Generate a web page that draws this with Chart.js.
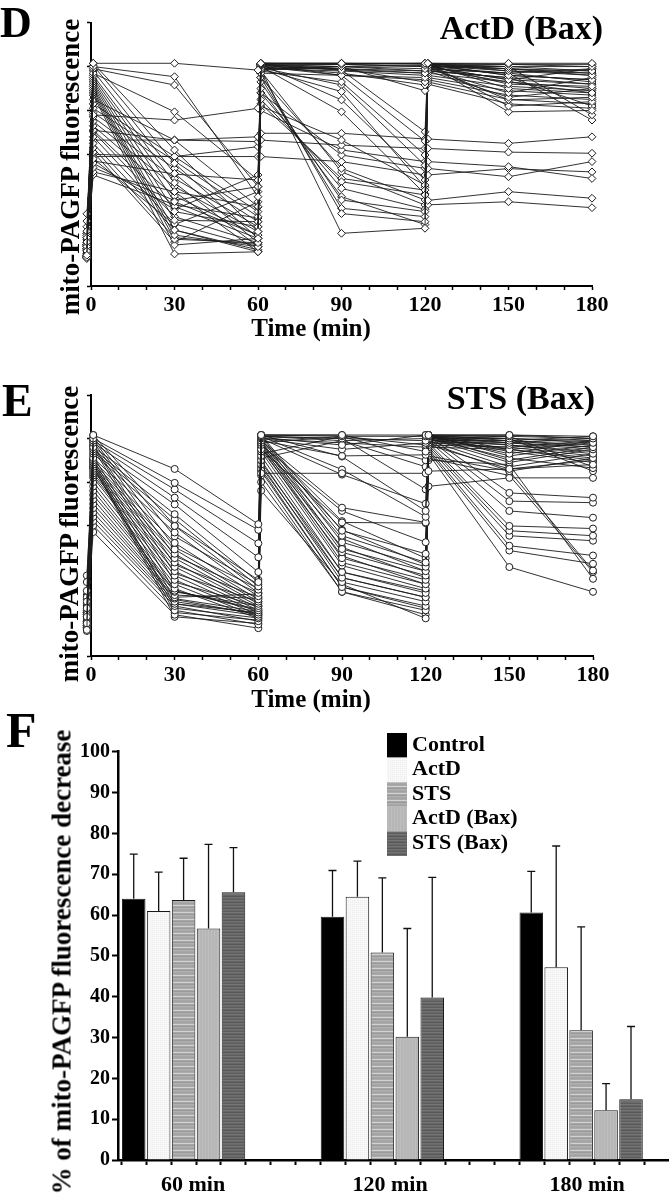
<!DOCTYPE html>
<html><head><meta charset="utf-8">
<script src="https://cdn.jsdelivr.net/npm/chart.js@4.4.1/dist/chart.umd.min.js"></script>
<style>
html,body{margin:0;padding:0;background:#fff;}
body{width:669px;height:1199px;position:relative;overflow:hidden;font-family:"Liberation Serif","Times New Roman",serif;font-weight:bold;color:#000;}
canvas{position:absolute;left:0;}
.t{position:absolute;white-space:nowrap;line-height:1;}
.rot{position:absolute;white-space:nowrap;line-height:1;transform:translate(-50%,-50%) rotate(-90deg);}
</style></head><body>
<canvas id="cD" width="669" height="350" style="top:0px"></canvas>
<canvas id="cE" width="669" height="365" style="top:355px"></canvas>
<canvas id="cF" width="669" height="499" style="top:700px"></canvas>

<div class="t" style="left:0px;top:1px;font-size:44px">D</div>
<div class="t" style="right:66px;top:11px;font-size:34px">ActD (Bax)</div>
<div class="rot" style="left:70px;top:167px;font-size:27px">mito-PAGFP fluorescence</div>
<div class="t" style="left:311px;top:315px;font-size:25px;transform:translateX(-50%)">Time (min)</div>

<div class="t" style="left:2px;top:378px;font-size:46px">E</div>
<div class="t" style="right:74px;top:381px;font-size:34px">STS (Bax)</div>
<div class="rot" style="left:69px;top:534px;font-size:27px">mito-PAGFP fluorescence</div>
<div class="t" style="left:311px;top:686px;font-size:25px;transform:translateX(-50%)">Time (min)</div>

<div class="t" style="left:6px;top:705px;font-size:50px">F</div>
<div class="rot" style="left:62px;top:962px;font-size:27px">% of mito-PAGFP fluorescence decrease</div>

<script>
// ---------- Panel D: ActD (Bax), one row per cell ----------
// sample times (min): pre-activation, post-activation, 30, 60, re-activation, 90, 120, re-activation, 150, 180
const timesD = [-1.5, 0.8, 30, 60, 61, 90, 120, 121, 150, 180];
const actdBaxHigh = [
  [14, 101.5, 101.5, 98.4, 101.5, 101.5, 101.5, 101.5, 101.5, 101.5],
  [13, 100, 95.4, 40.7, 101.5, 101, 101.5, 101.5, 101, 100],
  [16, 99, 91.6, 45.3, 101, 100, 100.5, 101, 100, 98],
  [20, 97, 79.4, 48.3, 100.5, 100, 99, 101, 99, 96],
  [15, 101.5, 62, 24.8, 101.5, 101.5, 101, 101.5, 98, 97],
  [22, 100.5, 55.9, 21.7, 101, 98.4, 97, 101, 96, 94],
  [18, 98, 51.3, 19.7, 100, 96, 95, 100, 94, 99],
  [13.5, 96, 47, 17.9, 99, 100, 98, 100.5, 92, 91],
  [17, 95, 43, 15.6, 101.5, 101, 100, 101, 90, 88],
  [25, 94, 38.4, 23.2, 101, 99, 93, 99, 88, 95],
  [14.5, 93, 33.9, 27, 100, 97, 91.6, 98, 86, 90],
  [19, 92, 30, 29.3, 98.4, 100, 89, 100, 84.8, 86],
  [21, 91, 25.5, 15.6, 101.5, 101.5, 101.5, 101.5, 82, 84],
  [16.5, 90, 23.2, 17.9, 101, 101, 100, 101, 79.4, 80],
  [23, 89, 21.3, 19.7, 100, 99, 98, 100, 100, 78],
  [12.5, 88, 18.7, 21.7, 99, 98, 96, 99, 97, 75.6],
  [29.6, 87, 14.6, 15.6, 97, 96, 94, 98, 95, 82],
  [16, 78, 75.6, 81, 99, 99, 97, 99, 93, 88]
];
const actdBaxDropJump = [
  [15, 85, 66.5, 36.2, 99, 24, 26.3, 100, 99, 97],
  [13, 83, 59, 33.9, 97, 33, 29.3, 99, 97, 93],
  [18, 81, 57, 31.6, 95, 35.4, 31.6, 98, 95, 92],
  [24, 79, 53.6, 29.3, 93, 39.2, 33.9, 97, 93, 90],
  [14, 77, 49, 27, 90, 40.7, 28, 96, 91, 89],
  [17, 75, 45.3, 24.8, 88, 44.5, 35, 95, 89, 87],
  [19, 73, 41, 23.2, 85, 47.5, 41.5, 94, 87, 85],
  [32.9, 71, 36.2, 21.7, 83, 49, 43.7, 93, 85, 83],
  [21, 70.3, 31.6, 19.7, 82, 66.5, 46, 92, 83, 81],
  [13.5, 68, 28.3, 17.9, 101, 84.8, 48.3, 101, 100, 100],
  [15.5, 65, 25.5, 16.5, 100, 79.4, 42, 100.5, 98, 96],
  [16, 63, 22, 19, 99, 88.6, 45, 101, 96, 94],
  [22, 61, 20, 38.4, 98, 93, 59.7, 100, 94, 92],
  [14, 58, 28, 43, 101, 96, 66, 101, 101, 101],
  [20, 56, 35, 50.6, 100.5, 98.4, 70.3, 100.5, 99, 98],
  [18.5, 54, 39, 45.3, 99.5, 91.6, 55, 100, 97, 99]
];
const actdBaxLow = [
  [27, 71, 66.5, 68, 69.6, 69.6, 67, 67, 65, 68],
  [20, 66.5, 66.5, 65.8, 66.5, 64.2, 62.7, 62.7, 61, 60.5],
  [15, 60, 59, 63.5, 80, 62, 56.7, 56.7, 54.4, 49],
  [17, 57, 51, 48.3, 88, 59.7, 53.6, 53.6, 49.8, 56.7],
  [24, 59, 59, 59, 59, 56.7, 50.6, 50.6, 53.5, 52],
  [13, 52, 43, 36, 95, 53.6, 39.2, 39, 43, 40],
  [19, 50.6, 37, 31, 98, 52, 36.9, 37, 38.4, 35.7]
];

// ---------- Panel E: STS (Bax), one row per cell ----------
const timesE = [-1.5, 0.8, 30, 60, 61, 90, 120, 121, 150, 180];
const stsBaxHigh = [
  [12, 101.6, 86, 60.6, 101.6, 101.6, 101.6, 101.6, 101.6, 101],
  [15, 100, 79.6, 58, 101.6, 101, 101, 101.6, 101, 100],
  [18, 99, 76.6, 51.8, 101, 100, 99, 101, 100, 98],
  [22, 98, 72.8, 45.4, 100.5, 97, 101.6, 101.6, 99, 96],
  [14, 96, 69.7, 38.6, 100, 95, 98, 101, 98, 95],
  [30, 95, 65.2, 34, 101.6, 101.6, 94, 100, 97, 93],
  [16, 94, 62.9, 32, 99, 92, 92.5, 99.5, 95, 91],
  [13, 93, 59.8, 30.5, 101, 99, 100, 101, 93, 99],
  [19, 91, 56.8, 29, 84, 84, 84, 85, 86, 88],
  [25, 90, 52, 27.5, 98, 101, 97, 100, 91, 86.4]
];
const stsBaxDropJump = [
  [11.5, 89, 49, 26, 101.6, 91.7, 66.7, 101.6, 101.6, 100],
  [17, 88, 47, 25, 101, 85.7, 64, 101, 100, 99],
  [20, 87, 45, 24, 100, 83.4, 70, 100, 99, 97],
  [14, 86, 43, 23, 99, 68.2, 61.4, 100, 98, 96],
  [23, 85, 41, 22, 97, 66.7, 52.3, 99, 97, 94],
  [16, 84, 39, 21, 95, 61.4, 61.1, 98, 96, 92],
  [27, 83, 37, 20, 101.6, 57.6, 47, 101.6, 95, 90],
  [13, 82, 35, 19, 101, 55.3, 43, 101, 94, 89],
  [18, 80, 33, 18, 100, 52.3, 41, 100.5, 101, 87],
  [21, 78, 31, 17.3, 99, 49.2, 39, 100, 100, 85],
  [15, 76, 30, 21.5, 98, 47.7, 37, 99, 99, 101],
  [12, 74, 29.5, 23, 97, 45, 35, 98, 98, 100],
  [19, 72, 28, 26.5, 96, 43, 33, 97, 96, 99],
  [24, 70, 27, 28.5, 94, 41.6, 31, 96, 95, 98],
  [17, 68, 26.4, 20.5, 92, 38.6, 29, 101.6, 92, 97],
  [14, 66, 25, 19.5, 90, 36, 27, 101, 90, 96],
  [20, 64, 24, 18.5, 88, 34, 25, 100, 89, 95],
  [26, 62, 23, 16, 86, 31.7, 23, 99, 87, 93],
  [22, 60, 21, 14.5, 80, 29.5, 21, 98, 85, 91],
  [16, 57, 19, 12.8, 76, 33, 17.3, 97, 86, 90]
];
const stsBaxLateDrop = [
  [13, 101.6, 60, 35, 101, 100, 76.6, 78, 81.9, 81.9],
  [18, 100.5, 55, 33, 100, 98, 96, 101, 75, 72.8],
  [21, 99.5, 50, 31, 99, 62, 45, 100, 71.2, 70.5],
  [15, 98.5, 46, 29, 98, 58, 42, 99, 66.7, 63.6],
  [34, 97, 42, 27, 97, 54, 39, 98, 59.8, 58.6],
  [12.5, 96.5, 38, 25, 96, 50, 36, 97, 57.6, 55.3],
  [19, 95.5, 34, 23, 95, 46, 33, 96, 55.3, 53],
  [16, 92, 30, 21, 93, 101, 90, 95, 50.7, 46.2],
  [23, 90.5, 26, 19, 91, 99, 87, 94, 48.5, 42.4],
  [14, 89.5, 22, 17.5, 89, 38.6, 30, 93, 40.9, 29.5],
  [28, 88.5, 20, 16.5, 87, 36, 27, 92, 85, 39.3],
  [37, 87.5, 18, 15, 85, 31.7, 22, 91, 83, 38.6],
  [20, 86.5, 24, 20, 83, 29.5, 19, 90, 88, 35.5]
];
const timeTickValues = [0,10,20,30,40,50,60,70,80,90,100,110,120,130,140,150,160,170,180];
const fluorTickValues = [0,20,40,60,80,100,120];

// ---------- Panel F ----------
const fCategories = ['60 min', '120 min', '180 min'];
const fCategoryPos = [0, 1, 2];
const fLabelPos = [0.048, 1.039, 2.03];
const fSeries = ['Control', 'ActD', 'STS', 'ActD (Bax)', 'STS (Bax)'];
const controlMean = [64.0, 59.6, 60.6];
const actdMean = [61.0, 64.5, 47.2];
const stsMean = [63.7, 50.8, 31.8];
const actdBaxMean = [56.7, 30.2, 12.2];
const stsBaxMean = [65.6, 39.8, 14.9];
const controlSD = [10.9, 11.3, 10.1];
const actdSD = [9.5, 8.7, 29.7];
const stsSD = [10.2, 18.3, 25.3];
const actdBaxSD = [20.6, 26.5, 6.5];
const stsBaxSD = [10.9, 29.4, 17.8];
const percentTickValues = [0,10,20,30,40,50,60,70,80,90,100];

Chart.defaults.font.family = '"Liberation Serif","Times New Roman",serif';
Chart.defaults.font.weight = 'bold';
Chart.defaults.color = '#000';

function lineChart(id, times, traces, pointStyle, radius, padTop, padRight) {
  const datasets = traces.map(tr => ({
    data: times.map((t, i) => ({x: t, y: tr[i]})),
    showLine: true, borderColor: '#1c1c1c', borderWidth: 0.9,
    pointStyle: pointStyle, pointRadius: radius, pointBorderWidth: 1,
    pointBorderColor: '#1c1c1c', pointBackgroundColor: '#fff', clip: false
  }));
  new Chart(document.getElementById(id), {
    type: 'scatter',
    data: {datasets},
    options: {
      responsive: false, animation: false, devicePixelRatio: 1,
      layout: {padding: {top: padTop, right: padRight, left: 0, bottom: 0}},
      plugins: {legend: {display: false}, tooltip: {enabled: false}},
      scales: {
        x: {type: 'linear', min: 0, max: 180,
          afterBuildTicks: s => { s.ticks = timeTickValues.map(v => ({value: v})); },
          afterFit: s => { s.height = 64; },
          ticks: {callback: v => (v % 30 === 0 ? String(v) : ''), font: {size: 22, weight: 'bold'}, color: '#000', padding: 2, maxRotation: 0, autoSkip: false},
          grid: {drawOnChartArea: false, tickLength: 4, tickColor: '#000', tickWidth: 1.5},
          border: {color: '#000', width: 2}
        },
        y: {type: 'linear', min: 0, max: 120,
          afterBuildTicks: s => { s.ticks = fluorTickValues.map(v => ({value: v})); },
          afterFit: s => { s.width = 91; },
          ticks: {display: false},
          grid: {drawOnChartArea: false, tickLength: 4, tickColor: '#000', tickWidth: 1.5},
          border: {color: '#000', width: 2}
        }
      }
    }
  });
}

lineChart('cD', timesD, actdBaxHigh.concat(actdBaxDropJump, actdBaxLow), 'rectRot', 3.9, 22.7, 77);
lineChart('cE', timesE, stsBaxHigh.concat(stsBaxDropJump, stsBaxLateDrop), 'circle', 3.5, 40, 76);

// ---------- bar chart ----------
const fctx = document.getElementById('cF').getContext('2d');
function makePattern(w, h, draw) {
  const c = document.createElement('canvas'); c.width = w; c.height = h;
  const g = c.getContext('2d'); draw(g); return fctx.createPattern(c, 'repeat');
}
function rows(cols) { return g => cols.forEach((col, i) => { g.fillStyle = col; g.fillRect(0, i, 4, 1); }); }
const fills = [
  '#000000',
  makePattern(2, 2, g => { g.fillStyle = '#f8f8f8'; g.fillRect(0,0,2,2); g.fillStyle = '#ececec'; g.fillRect(0,0,1,1); }),
  makePattern(4, 7, rows(['#a2a2a2','#ababab','#d2d2d2','#a6a6a6','#9a9a9a','#b0b0b0','#a8a8a8'])),
  makePattern(3, 1, g => { g.fillStyle = '#b6b6b6'; g.fillRect(0,0,3,1); g.fillStyle = '#bebebe'; g.fillRect(1,0,1,1); }),
  makePattern(4, 6, rows(['#6a6a6a','#5c5c5c','#757575','#666666','#585858','#707070']))
];
const means = [controlMean, actdMean, stsMean, actdBaxMean, stsBaxMean];
const sds = [controlSD, actdSD, stsSD, actdBaxSD, stsBaxSD];

const errorBars = {
  id: 'errorBars',
  afterDatasetsDraw(chart) {
    const {ctx} = chart; const y = chart.scales.y;
    ctx.save(); ctx.strokeStyle = '#111'; ctx.lineWidth = 1.3;
    chart.data.datasets.forEach((ds, j) => {
      chart.getDatasetMeta(j).data.forEach((bar, i) => {
        const top = y.getPixelForValue(means[j][i] + sds[j][i]);
        ctx.beginPath();
        ctx.moveTo(bar.x, bar.y); ctx.lineTo(bar.x, top);
        ctx.moveTo(bar.x - 4, top); ctx.lineTo(bar.x + 4, top);
        ctx.stroke();
      });
    });
    ctx.restore();
  }
};
const boxLegend = {
  id: 'boxLegend',
  afterDraw(chart, args, o) {
    const {ctx} = chart;
    ctx.save();
    ctx.font = 'bold 22px "Liberation Serif","Times New Roman",serif';
    ctx.textBaseline = 'alphabetic';
    chart.data.datasets.forEach((ds, j) => {
      const top = o.y + j * o.row;
      ctx.fillStyle = ds.backgroundColor;
      ctx.fillRect(o.x, top, o.w, o.row);
      ctx.fillStyle = '#000';
      ctx.fillText(ds.label, o.x + o.w + 5, top + 17.5);
    });
    ctx.restore();
  }
};

new Chart(document.getElementById('cF'), {
  type: 'bar',
  data: {
    datasets: fSeries.map((name, j) => ({
      label: name, xAxisID: 'x', yAxisID: 'y',
      data: fCategoryPos.map((p, i) => ({x: p, y: means[j][i]})),
      backgroundColor: fills[j], borderColor: '#1a1a1a', borderWidth: 1,
      categoryPercentage: 0.633, barPercentage: 0.944
    }))
  },
  options: {
    responsive: false, animation: false, devicePixelRatio: 1,
    layout: {padding: {top: 51.7, right: 1, left: 0, bottom: 0}},
    plugins: {legend: {display: false}, tooltip: {enabled: false},
      boxLegend: {x: 387, y: 33, w: 20, row: 24.6}},
    scales: {
      x: {type: 'linear', position: 'bottom', weight: 1, min: -0.33, max: 2.437, offset: false,
        afterBuildTicks: s => { s.ticks = fLabelPos.map(v => ({value: v})); },
        afterFit: s => { s.height = 33; },
        ticks: {callback: (v, i) => fCategories[i], font: {size: 22, weight: 'bold'}, color: '#000', padding: 6, maxRotation: 0, autoSkip: false},
        grid: {display: false, drawTicks: false, offset: false},
        border: {display: false}
      },
      xm: {type: 'linear', axis: 'x', position: 'bottom', weight: 0, min: -0.33, max: 2.437, offset: false,
        afterBuildTicks: s => { const t = []; for (let k = 0; k < 22; k++) t.push({value: -0.3131 + 0.12525 * k}); s.ticks = t; },
        afterFit: s => { s.height = 6; },
        ticks: {display: false, autoSkip: false},
        grid: {drawOnChartArea: false, offset: false, tickLength: 5, tickColor: '#000', tickWidth: 2},
        border: {color: '#000', width: 2.5}
      },
      y: {type: 'linear', min: 0, max: 100,
        afterBuildTicks: s => { s.ticks = percentTickValues.map(v => ({value: v})); },
        afterFit: s => { s.width = 118; },
        ticks: {font: {size: 20, weight: 'bold'}, color: '#000', padding: 2},
        grid: {drawOnChartArea: false, tickLength: 6, tickColor: '#000', tickWidth: 2},
        border: {color: '#000', width: 2.5}
      }
    }
  },
  plugins: [errorBars, boxLegend]
});
</script>
</body></html>
